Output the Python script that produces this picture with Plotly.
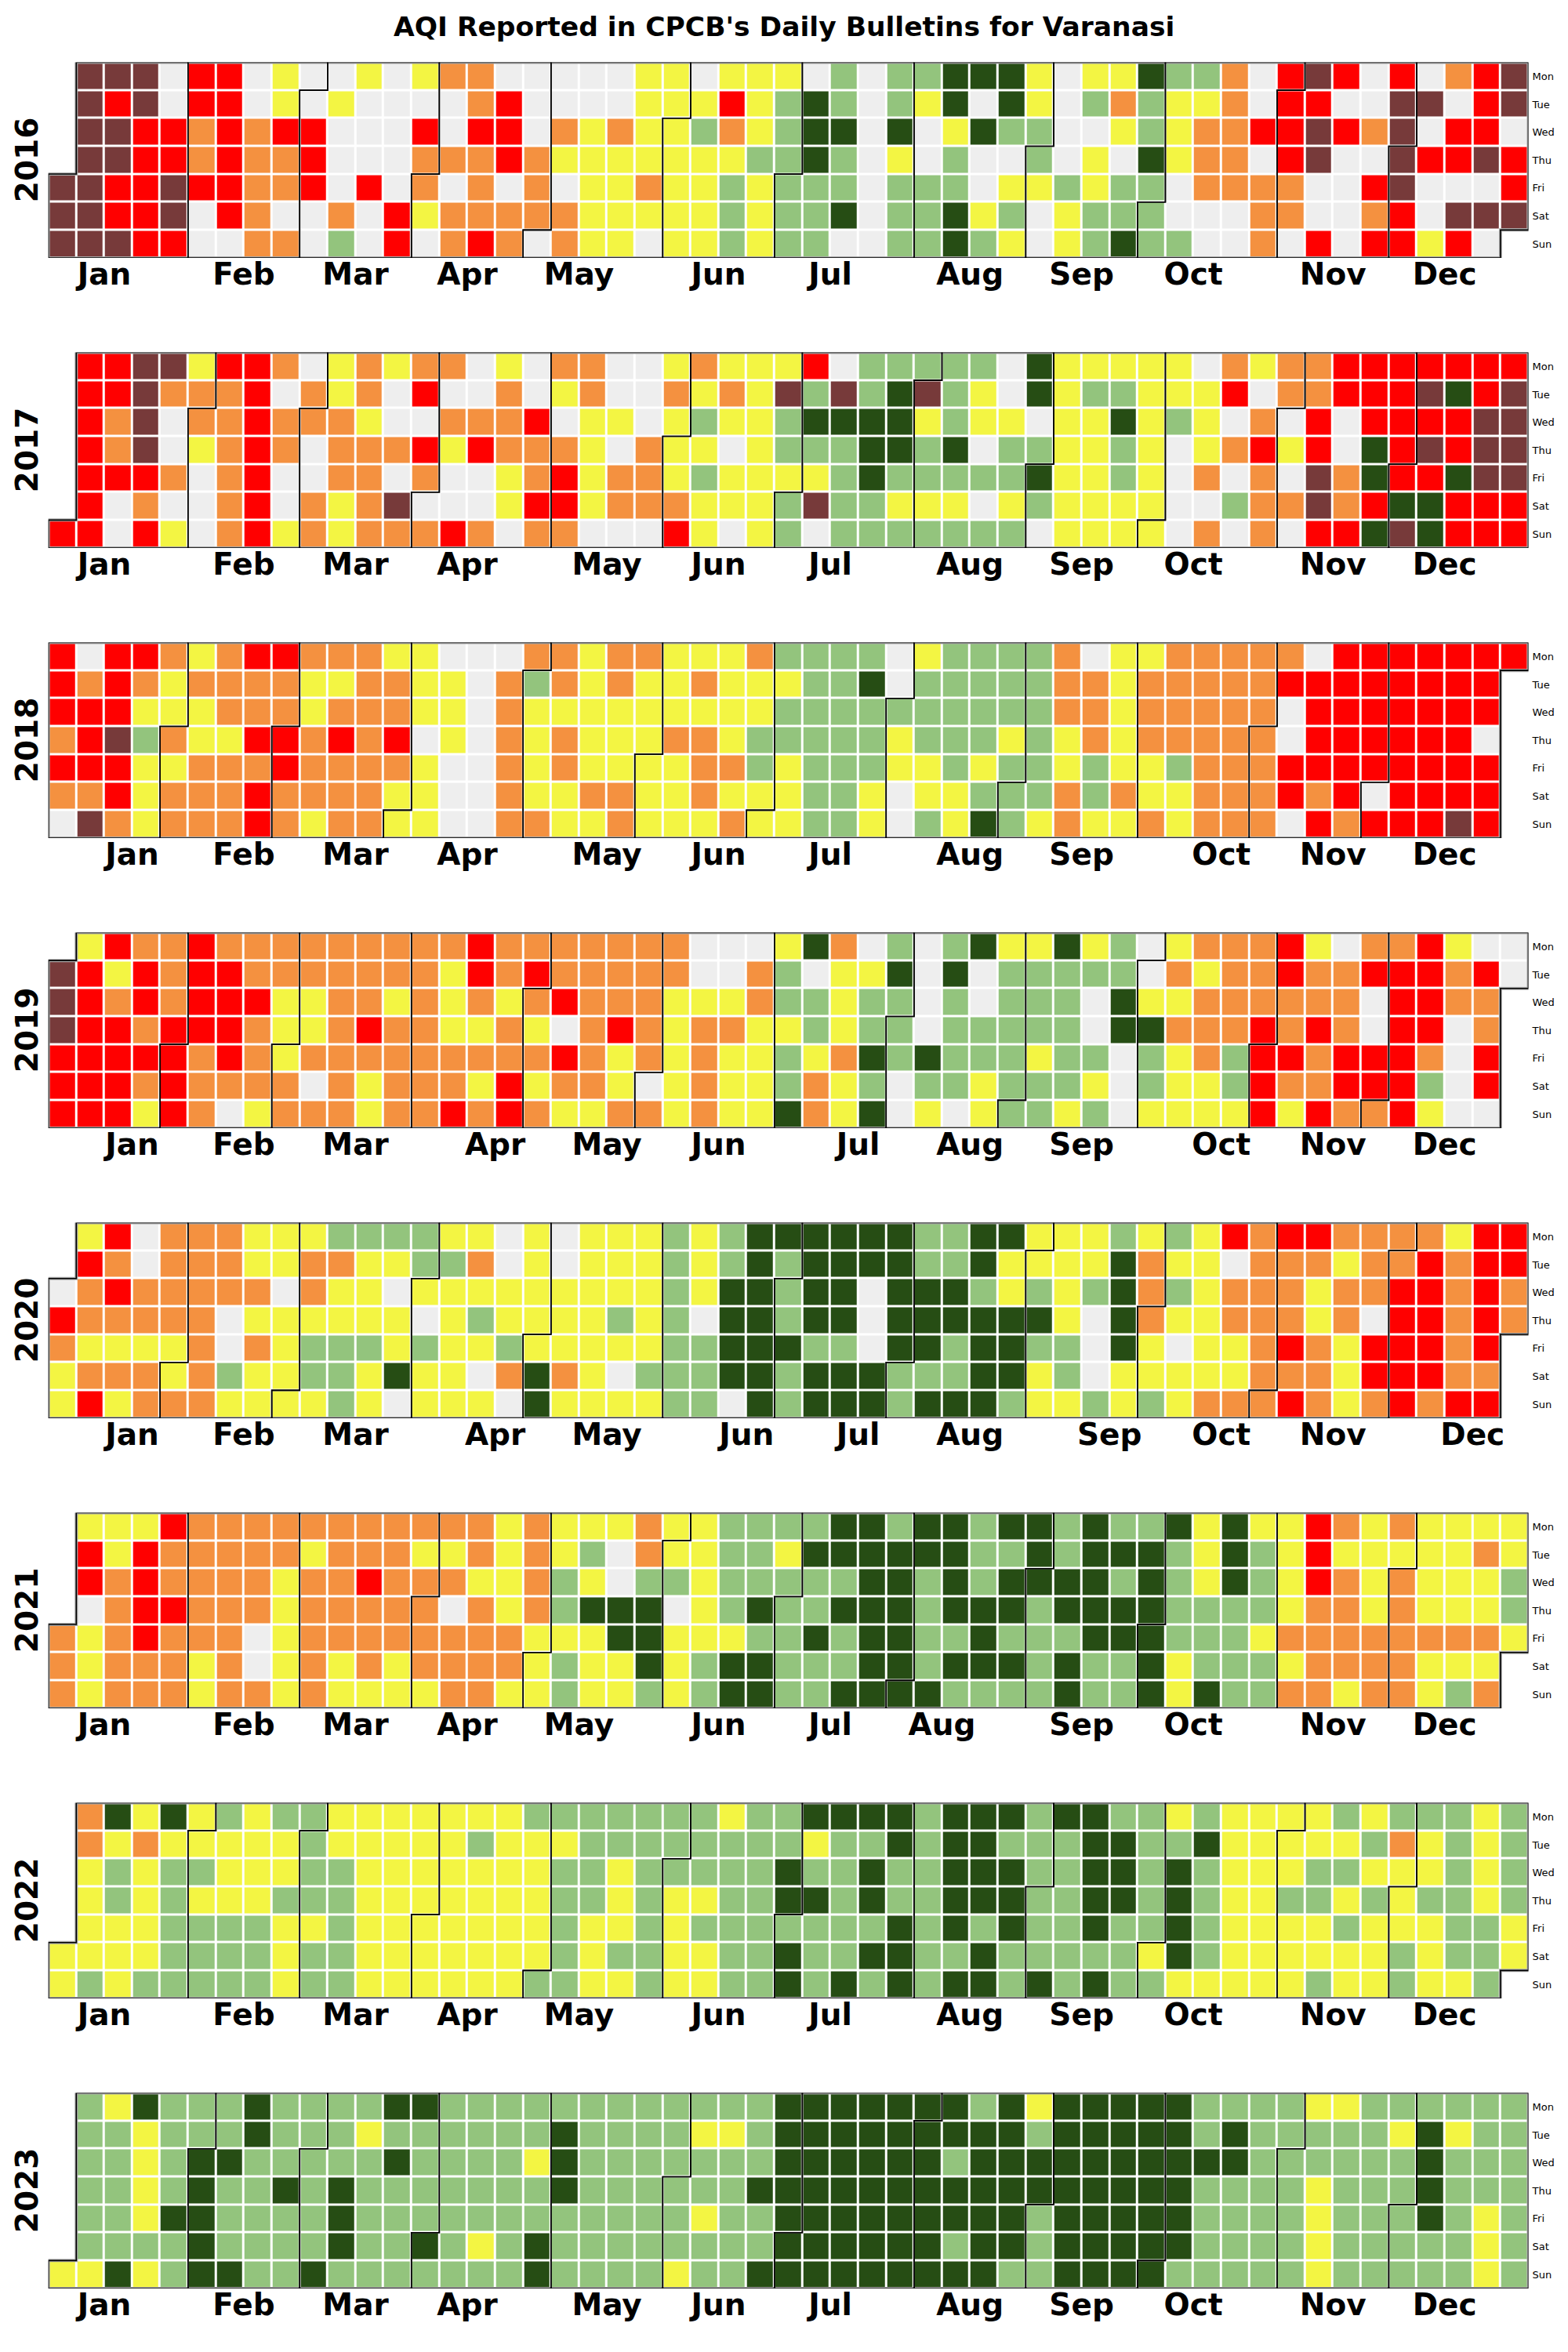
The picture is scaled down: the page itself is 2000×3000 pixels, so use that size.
import datetime as dt
import plotly.graph_objects as go

TITLE = "AQI Reported in CPCB's Daily Bulletins for Varanasi"
YEARS = [2016, 2017, 2018, 2019, 2020, 2021, 2022, 2023]
MONTH_LABELS = ["Jan", "Feb", "Mar", "Apr", "May", "Jun",
                "Jul", "Aug", "Sep", "Oct", "Nov", "Dec"]
DAY_LABELS = ["Mon", "Tue", "Wed", "Thu", "Fri", "Sat", "Sun"]
CATEGORIES = ["No data", "Good", "Satisfactory", "Moderate", "Poor", "Very Poor", "Severe"]
CATEGORY_COLORS = ["#eeeeee", "#264d14", "#93c47d", "#f3f543", "#f49140", "#ff0000", "#773a3a"]

# Daily AQI category read from the calendar: one string per weekday row (Mon..Sun),
# one character per week column. '-' outside the year, '0' no data, '1'..'6' category.
AQI_2016 = [
    "-" "6660550300" "3034400000" "3303330202" "2111303312" "240565050456",
    "-" "6560550303" "0000450000" "3335321202" "3101302423" "340550066056",
    "-" "6655454550" "0050550434" "3324321101" "0312200323" "445565460550",
    "-" "6655454450" "0044454333" "3333221203" "0200203013" "440560065565",
    "6655655445" "0504040403" "3433232220" "2220332322" "0444400560" "005",
    "6655605400" "4053444443" "3333232210" "2213203222" "0004400450" "666",
    "6665500440" "2050454043" "3033232200" "2212303212" "2004050553" "50-",
]
AQI_2017 = [
    "-" "5566355403" "4344030440" "0343335022" "2220133333" "043445555555",
    "-" "5564445043" "4050040340" "0434362621" "6230132233" "350445556156",
    "-" "5460445444" "3004445033" "0323321111" "3233033132" "304050555566",
    "-" "5460345404" "4453544430" "4330322211" "2102233230" "345350156566",
    "-" "5554045004" "4040034534" "4323333212" "2222133230" "404064155166",
    "-" "5040045043" "4600035534" "4433326223" "3303233330" "024464511555",
    "5505304534" "3444540440" "0053032022" "2222203333" "0404055161555",
]
AQI_2018 = [
    "5055434554" "4433000443" "4433342222" "0322224033" "4444405555555",
    "5454344443" "3443304243" "4334333221" "0222224434" "444455555555-",
    "5553334443" "4443304333" "3333332222" "2222224434" "444405555555-",
    "4562433554" "5450304343" "3344322222" "3222323434" "444405555550-",
    "5553344454" "4443004343" "3334423222" "3323223233" "244455555555-",
    "4453444544" "4433004334" "4334333223" "0332224243" "344454505555-",
    "0643444543" "4433004433" "4333433223" "0231234334" "344405455565-",
]
AQI_2019 = [
    "-" "3544544444" "4444544444" "4400031402" "0213313203" "444530445300",
    "6535455444" "4444354544" "4440042033" "1010222220" "4344544555450",
    "6545455533" "4434343454" "4433342232" "2020222013" "344444405544-",
    "6554555433" "4544334304" "5434433232" "2022222011" "444545405504-",
    "5555545434" "4444444454" "3434332341" "2122232202" "342554555405-",
    "5554544440" "4344435344" "3034332432" "0223222302" "332544555205-",
    "5553540344" "4344545433" "4434331431" "0303223203" "333535445300-",
]
AQI_2020 = [
    "-" "3504443332" "2223303033" "3232111111" "2211333232" "354554444355",
    "-" "5404443344" "3322403033" "3232121111" "2213333143" "304443445455",
    "0454444404" "3303333333" "3323112110" "1112323214" "2344434455454",
    "5444440333" "3330323333" "2320112110" "1111113014" "3344434055454",
    "4333340432" "2232332333" "3322111220" "1121122013" "033454355545-",
    "3444342332" "2313304143" "0222112111" "2221132033" "333444355544-",
    "3534443333" "2303330133" "3322012111" "2111233232" "344454345455-",
]
AQI_2021 = [
    "-" "3335444444" "4444434333" "4332222112" "1121121221" "313354343333",
    "-" "5354444434" "4433434320" "4332231111" "1122121112" "312353333343",
    "-" "5454444344" "5444334230" "2232222211" "2121111212" "312354343332",
    "-" "0455444344" "4440434211" "1032122111" "2111211112" "222344343332",
    "4345444034" "4444444333" "1133322121" "1221222111" "2223444444443",
    "4344434034" "3434444323" "3132112221" "1211121221" "322234444333-",
    "4344434434" "3333443323" "3232112211" "1122221221" "312244344324-",
]
AQI_2022 = [
    "-" "4131323223" "3333332222" "2223221111" "2111211223" "233332322232",
    "-" "4343333323" "3333233322" "2222223221" "2112221122" "133333243232",
    "-" "3232233322" "3333333223" "2222212212" "2111221121" "233322333232",
    "-" "3232333222" "3333333223" "2332211212" "2111221121" "233223232232",
    "-" "3332222332" "3333333233" "2322222221" "2121221221" "233332333223",
    "3333222232" "2333333323" "2233221221" "1221222223" "1233333323223",
    "3232222232" "2333333223" "3233221212" "1211212122" "333332332332-",
]
AQI_2023 = [
    "-" "2312221222" "2112222222" "2222211111" "1121311111" "222233222222",
    "-" "2232221222" "3222222122" "2233211111" "1111211111" "212222231322",
    "-" "2232112222" "2122223122" "2222211111" "1211111111" "112222221222",
    "-" "2232122121" "2222222122" "2222111111" "1111111111" "222232221222",
    "-" "2231122221" "2222222222" "2232211111" "1111211111" "222232221232",
    "-" "2222122221" "2212321222" "2222211111" "1211211111" "222232222232",
    "3313211221" "2222222122" "2232211111" "1111221111" "2222232222232",
]
AQI_ROWS = {2016: AQI_2016, 2017: AQI_2017, 2018: AQI_2018, 2019: AQI_2019,
            2020: AQI_2020, 2021: AQI_2021, 2022: AQI_2022, 2023: AQI_2023}

# ---------------------------------------------------------------- geometry
W, H = 2000, 3000
GRID_LEFT, GRID_RIGHT = 61.7, 1949.5
GRID_TOP0, GRID_H, YEAR_PITCH = 79.5, 249.5, 370.0
NCOL = 53


def grid_pos(d):
    jan1 = dt.date(d.year, 1, 1)
    return ((d - jan1).days + jan1.weekday()) // 7, d.weekday()


def outline(first, last):
    p0, r0 = grid_pos(first)
    p1, r1 = grid_pos(last)
    if r0 == 0:
        left = [(p0 - 0.5, 6.5), (p0 - 0.5, -0.5)]
    else:
        left = [(p0 - 0.5, 6.5), (p0 - 0.5, r0 - 0.5), (p0 + 0.5, r0 - 0.5), (p0 + 0.5, -0.5)]
    if r1 == 6:
        right = [(p1 + 0.5, -0.5), (p1 + 0.5, 6.5)]
    else:
        right = [(p1 + 0.5, -0.5), (p1 + 0.5, r1 + 0.5), (p1 - 0.5, r1 + 0.5), (p1 - 0.5, 6.5)]
    pts = left + right + [left[0]]
    return [p[0] for p in pts], [p[1] for p in pts]


def month_tick(year, month):
    d = dt.date(year, month, 15)
    w = d.isocalendar()[1]
    if month == 1 and w > 50:
        w = 0
    return w - 0.5


colorscale = []
n = len(CATEGORY_COLORS)
for i, c in enumerate(CATEGORY_COLORS):
    colorscale.append([i / n, c])
    colorscale.append([(i + 1) / n, c])

fig = go.Figure()
layout = dict(
    width=W, height=H, autosize=False,
    margin=dict(l=0, r=0, t=0, b=0),
    paper_bgcolor="white", plot_bgcolor="white",
    showlegend=False,
    annotations=[],
)

FONT = "DejaVu Sans"

for k, year in enumerate(YEARS):
    rows = AQI_ROWS[year]
    ax = "" if k == 0 else str(k + 1)
    z = [[None] * NCOL for _ in range(7)]
    txt = [[""] * NCOL for _ in range(7)]
    d = dt.date(year, 1, 1)
    while d.year == year:
        p, r = grid_pos(d)
        ch = rows[r][p] if p < len(rows[r]) else "0"
        v = int(ch) if ch.isdigit() else 0
        z[r][p] = v
        txt[r][p] = f"{d.isoformat()}: {CATEGORIES[v]}"
        d += dt.timedelta(days=1)

    fig.add_trace(go.Heatmap(
        z=z, x=list(range(NCOL)), y=list(range(7)),
        colorscale=colorscale, zmin=-0.5, zmax=n - 0.5, showscale=False,
        xgap=3, ygap=3, text=txt, hoverinfo="text",
        xaxis="x" + ax, yaxis="y" + ax,
    ))

    # outer border of the year
    bx, by = outline(dt.date(year, 1, 1), dt.date(year, 12, 31))
    fig.add_trace(go.Scatter(x=bx, y=by, mode="lines",
                             line=dict(color="#a8a8a8", width=4),
                             hoverinfo="skip", cliponaxis=False,
                             xaxis="x" + ax, yaxis="y" + ax))
    # month outlines
    mx, my = [], []
    for m in range(1, 13):
        first = dt.date(year, m, 1)
        last = (dt.date(year + 1, 1, 1) if m == 12 else dt.date(year, m + 1, 1)) - dt.timedelta(days=1)
        ox, oy = outline(first, last)
        mx += ox + [None]
        my += oy + [None]
    fig.add_trace(go.Scatter(x=mx, y=my, mode="lines",
                             line=dict(color="black", width=1.6),
                             hoverinfo="skip", cliponaxis=False,
                             xaxis="x" + ax, yaxis="y" + ax))

    top = GRID_TOP0 + YEAR_PITCH * k
    bottom = top + GRID_H
    layout["xaxis" + ax] = dict(
        domain=[GRID_LEFT / W, GRID_RIGHT / W], anchor="y" + ax,
        range=[-0.5, NCOL - 0.5], showgrid=False, zeroline=False, showline=False,
        ticks="", tickmode="array",
        tickvals=[month_tick(year, m) for m in range(1, 13)],
        ticktext=MONTH_LABELS,
        tickfont=dict(family=FONT, size=39, color="black", weight="bold"),
        ticklabelstandoff=-6, fixedrange=True,
    )
    layout["yaxis" + ax] = dict(
        domain=[1 - bottom / H, 1 - top / H], anchor="x" + ax,
        range=[6.5, -0.5], side="right", showgrid=False, zeroline=False, showline=False,
        ticks="", tickmode="array", tickvals=list(range(7)), ticktext=DAY_LABELS,
        tickfont=dict(family=FONT, size=13, color="black"),
        ticklabelstandoff=4, fixedrange=True,
    )
    layout["annotations"].append(dict(
        text=str(year), xref="paper", yref="paper",
        x=34 / W, y=1 - (top + GRID_H / 2) / H,
        xanchor="center", yanchor="middle", textangle=-90, showarrow=False,
        font=dict(family=FONT, size=39, color="black", weight="bold"),
    ))

layout["annotations"].append(dict(
    text=TITLE, xref="paper", yref="paper", x=0.5, y=1 - 34 / H,
    xanchor="center", yanchor="middle", showarrow=False,
    font=dict(family=FONT, size=34.5, color="black", weight="bold"),
))

fig.update_layout(**layout)
fig.write_html("out.html")
